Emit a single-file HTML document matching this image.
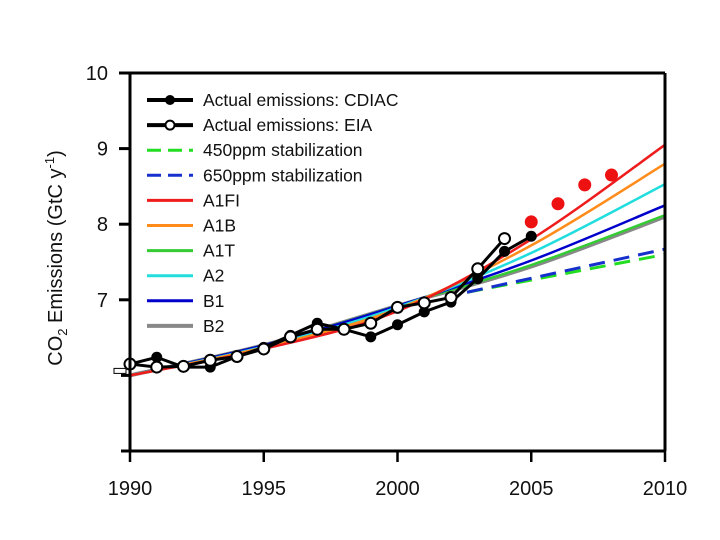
<!DOCTYPE html>
<html><head><meta charset="utf-8"><style>
body{margin:0;background:#fff}
svg{display:block;font-family:"Liberation Sans",Arial,sans-serif}
</style></head><body>
<svg id="chart" width="720" height="540" viewBox="0 0 720 540">
<g id="plot"></g>
</svg>
<script>
const years=[1990,1991,1992,1993,1994,1995,1996,1997,1998,1999,2000,2001,2002,2003,2004,2005];
const cdiac=[6.15,6.24,6.11,6.11,6.25,6.37,6.53,6.69,6.61,6.51,6.67,6.84,6.97,7.28,7.64,7.84];
const eiaYears=[1990,1991,1992,1993,1994,1995,1996,1997,1998,1999,2000,2001,2002,2003,2004];
const eia=[6.15,6.11,6.12,6.2,6.25,6.35,6.51,6.61,6.61,6.69,6.9,6.96,7.03,7.41,7.81];
const redYears=[2005,2006,2007,2008];
const redVals=[8.03,8.27,8.52,8.65];
const scenYears=[1990,1995,2000,2005,2010];
const a1fi=[6.0,6.35,6.85,7.8,9.05];
const a1b=[6.0,6.37,6.88,7.72,8.8];
const a2=[6.0,6.38,6.9,7.62,8.53];
const b1=[6.0,6.4,6.92,7.52,8.25];
const a1t=[6.0,6.4,6.92,7.46,8.12];
const b2=[6.0,6.4,6.92,7.44,8.1];
const stabYears=[2002.6,2010];
const s450=[7.1,7.6];
const s650=[7.1,7.67];
const xTicks=[1990,1995,2000,2005,2010];
const yTicks=[10,9,8,7];
const yMinor=[6,5];

const X=y=>130+(y-1990)*(535/20);
const Y=v=>451-(v-5)*75.6;
const NS='http://www.w3.org/2000/svg';
const g=document.getElementById('plot');
function el(t,a,p){const e=document.createElementNS(NS,t);for(const k in a)e.setAttribute(k,a[k]);(p||g).appendChild(e);return e;}
function smooth(xs,vs){const p=xs.map((x,i)=>[X(x),Y(vs[i])]);let d='M'+p[0];for(let i=0;i<p.length-1;i++){const p0=p[i-1]||p[i],p1=p[i],p2=p[i+1],p3=p[i+2]||p2;const c1=[p1[0]+(p2[0]-p0[0])/6,p1[1]+(p2[1]-p0[1])/6],c2=[p2[0]-(p3[0]-p1[0])/6,p2[1]-(p3[1]-p1[1])/6];d+='C'+c1+' '+c2+' '+p2;}return d;}
function poly(xs,vs){return xs.map((x,i)=>(i?'L':'M')+X(x)+','+Y(vs[i])).join('');}

const scen=[['b2',b2,'#888888',4],['a1t',a1t,'#33cc33',2.5],['b1',b1,'#0000cc',2.5],['a2',a2,'#22dddd',2.5],['a1b',a1b,'#ff8c1a',2.5],['a1fi',a1fi,'#ee1c1c',2.5]];
scen.forEach(s=>{const p=el('path',{d:smooth(scenYears,s[1]),fill:'none',stroke:s[2],'stroke-width':s[3]});

});
let p450=el('path',{d:poly(stabYears,s450),fill:'none',stroke:'#22dd22','stroke-width':3,'stroke-dasharray':'16 9'});


let p650=el('path',{d:poly(stabYears,s650),fill:'none',stroke:'#1530cc','stroke-width':3,'stroke-dasharray':'16 9'});



let lc=el('path',{d:poly(years,cdiac),fill:'none',stroke:'#000','stroke-width':3});


let le=el('path',{d:poly(eiaYears,eia),fill:'none',stroke:'#000','stroke-width':3});


years.forEach((y,i)=>{const c=el('circle',{cx:X(y),cy:Y(cdiac[i]),r:5.5,fill:'#000'});

});
eiaYears.forEach((y,i)=>{const c=el('circle',{cx:X(y),cy:Y(eia[i]),r:5.5,fill:'#fff',stroke:'#000','stroke-width':2});

});
redYears.forEach((y,i)=>{const c=el('circle',{cx:X(y),cy:Y(redVals[i]),r:6.5,fill:'#ee1111'});

});

el('line',{x1:X(1990),y1:Y(10),x2:X(1990),y2:Y(5),stroke:'#000','stroke-width':3});
el('line',{x1:X(2010),y1:Y(10),x2:X(2010),y2:Y(5),stroke:'#000','stroke-width':3});
el('line',{x1:X(1990),y1:Y(10),x2:X(2010),y2:Y(10),stroke:'#000','stroke-width':3});
el('line',{x1:121,y1:Y(5),x2:X(2010),y2:Y(5),stroke:'#000','stroke-width':3});
xTicks.forEach(t=>{el('line',{x1:X(t),y1:Y(5),x2:X(t),y2:Y(5)+11,stroke:'#000','stroke-width':2.5});
const tx=el('text',{x:X(t),y:495,'font-size':20,'text-anchor':'middle',fill:'#111'});tx.textContent=t;

});
yTicks.forEach(t=>{el('line',{x1:119,y1:Y(t),x2:X(1990),y2:Y(t),stroke:'#000','stroke-width':3});
const tx=el('text',{x:108,y:Y(t)+7,'font-size':20,'text-anchor':'end',fill:'#111'});tx.textContent=t;

});
yMinor.forEach(t=>{el('line',{x1:121,y1:Y(t),x2:X(1990),y2:Y(t),stroke:'#000','stroke-width':3});});
el('rect',{x:114,y:Y(6)-7,width:12,height:5,fill:'#fff',stroke:'#000','stroke-width':1});

const leg=[['Actual emissions: CDIAC','#000','solid','filled'],['Actual emissions: EIA','#000','solid','open'],['450ppm stabilization','#22dd22','dash'],['650ppm stabilization','#1530cc','dash'],['A1FI','#ee1c1c'],['A1B','#ff8c1a'],['A1T','#33cc33'],['A2','#22dddd'],['B1','#0000cc'],['B2','#888888']];
leg.forEach((l,i)=>{const y=100+i*25.1;const gg=el('g',{});


const a={x1:147,y1:y,x2:193,y2:y,stroke:l[1],'stroke-width':(l[3]||i==9)?4:3};if(l[2]=='dash')a['stroke-dasharray']='14 7';
el('line',a,gg);
if(l[3]=='filled')el('circle',{cx:170,cy:y,r:5,fill:'#000'},gg);
if(l[3]=='open')el('circle',{cx:170,cy:y,r:4.5,fill:'#fff',stroke:'#000','stroke-width':2},gg);
const t=el('text',{x:203,y:y+6,'font-size':17.5,fill:'#111'},gg);t.textContent=l[0];});

const yt=el('text',{transform:'translate(62,258) rotate(-90)','font-size':20,'text-anchor':'middle',fill:'#111'});


yt.innerHTML='CO<tspan font-size="13" dy="5">2</tspan><tspan dy="-5"> Emissions (GtC y</tspan><tspan font-size="13" dy="-8">-1</tspan><tspan dy="8">)</tspan>';
</script>
</body></html>
